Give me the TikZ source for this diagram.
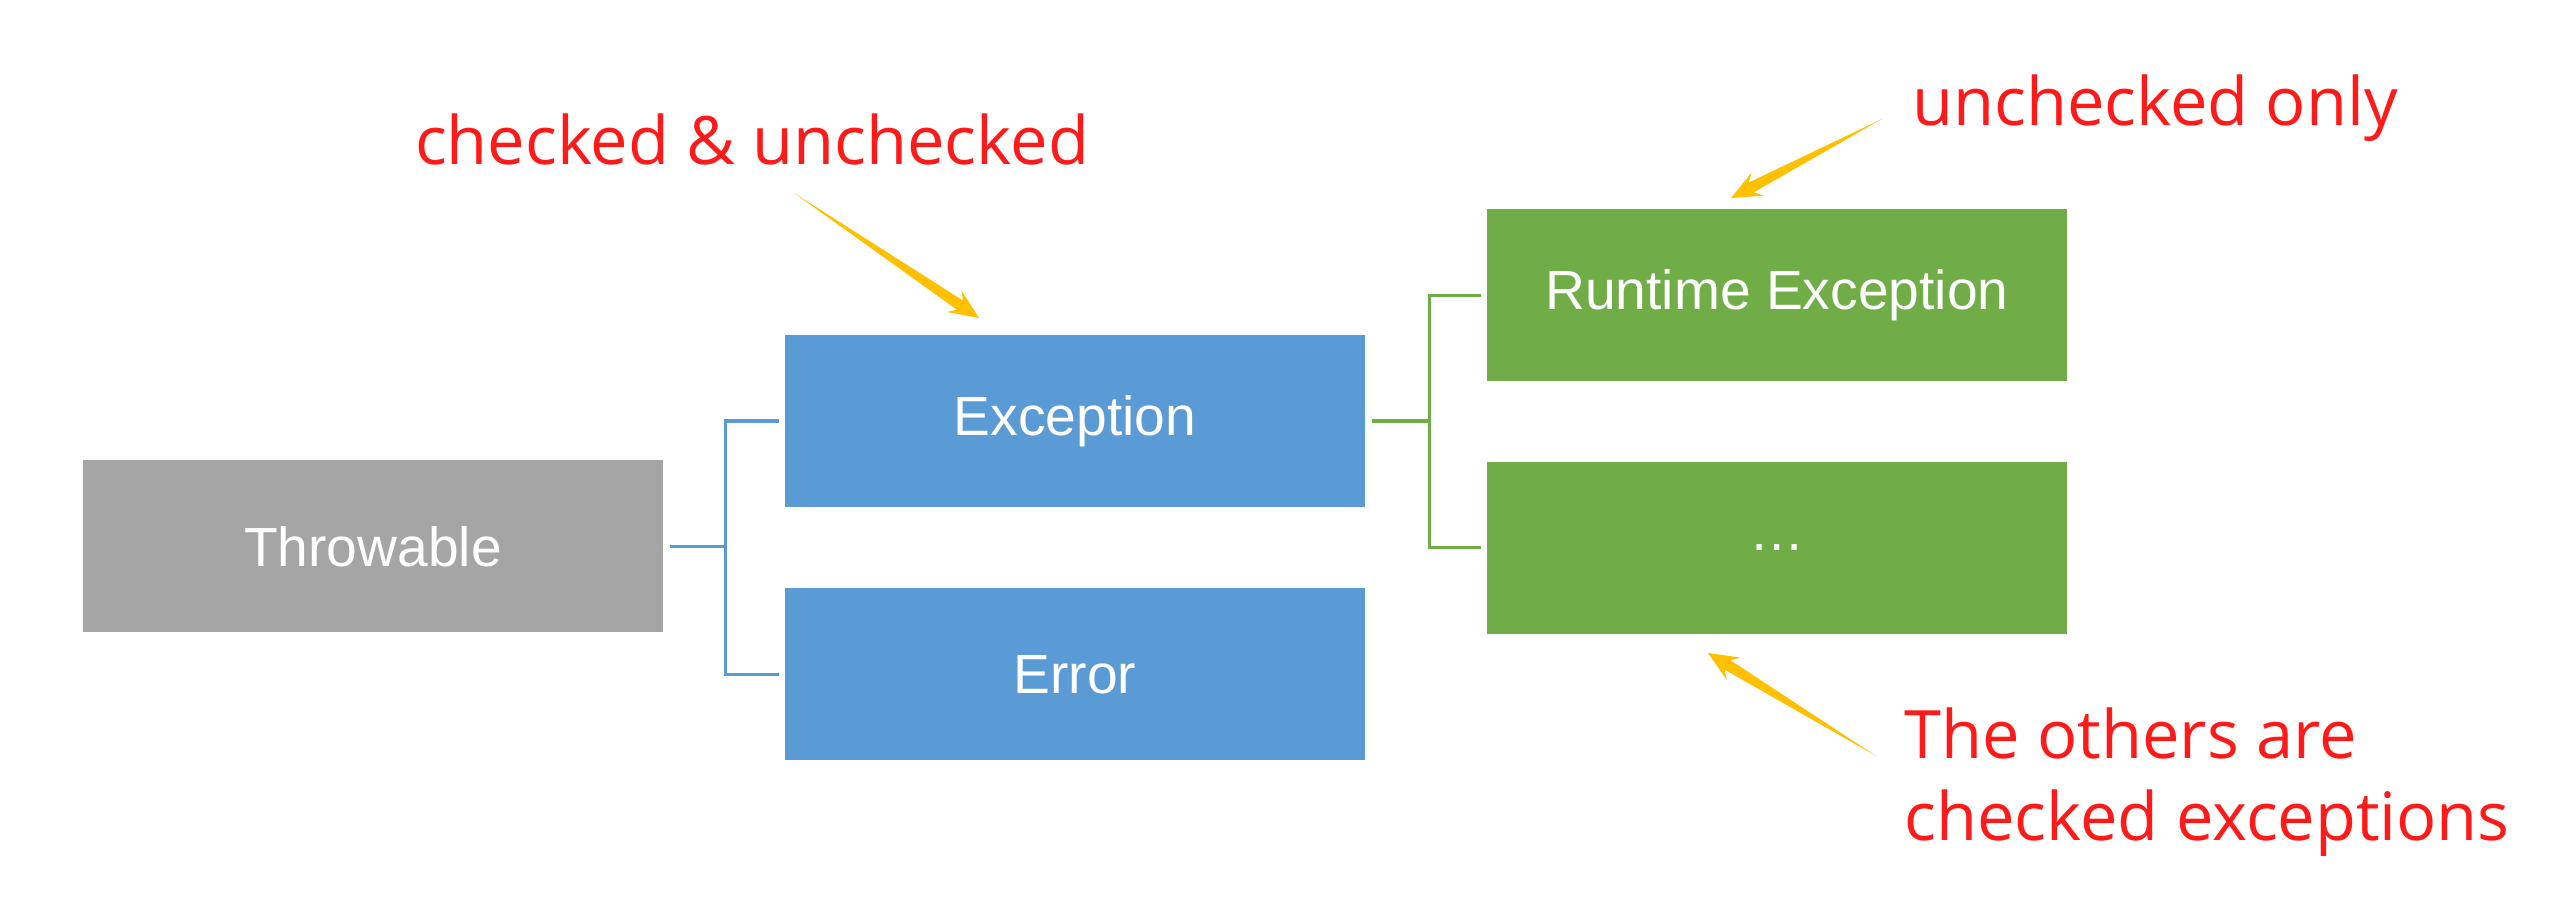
\documentclass[tikz,border=0pt]{standalone}
\usepackage{fontspec}
\setmainfont{Liberation Sans}
\newfontfamily\notefont{Open Sans}
\usepackage{tikz}
\usetikzlibrary{calc,positioning}
\definecolor{boxgray}{HTML}{A5A5A5}
\definecolor{boxblue}{HTML}{5B9BD5}
\definecolor{boxgreen}{HTML}{70AD47}
\definecolor{calloutorange}{HTML}{FFC000}
\definecolor{notered}{HTML}{FF1A1A}
% tapered callout arrow: #1 tail, #2 tip
\def\taperarrow#1#2{
  \coordinate (ta-b) at ($(#2)!0.30cm!(#1)$);
  \coordinate (ta-s) at ($(#2)!0.23cm!(#1)$);
  \fill[callout] (#1) -- ($(ta-s)!0.055cm!90:(#2)$) -- ($(ta-b)!0.13cm!90:(#2)$)
     -- (#2) -- ($(ta-b)!0.13cm!-90:(#2)$) -- ($(ta-s)!0.055cm!-90:(#2)$) -- cycle;
}
\begin{document}
\begin{tikzpicture}[      align=center,   inner sep=0pt,
      box/.style   ={minimum width=5.8cm, minimum height=1.72cm,
                     text=white, font=\fontsize{15.7}{19}\selectfont},
      grey box/.style ={box, fill=boxgray },
      blue box/.style ={box, fill=boxblue },
      green box/.style={box, fill=boxgreen},
      link/.style  ={line width=0.9pt},
      note/.style  ={text=notered, font=\notefont\fontsize{19}{23.4}\selectfont},
      callout/.style={fill=calloutorange},  ]

    \useasboundingbox[fill=white] (0,0) rectangle (25.62,-9.16);

    \node[grey box] (thr) at (3.73,-5.465) {Throwable};

    \begin{scope}[node distance=0.8cm]
      \node[blue box              ] (exc) at (10.75,-4.21) {Exception};
      \node[blue box, below = of exc] (err)                {Error};
    \end{scope}

    \begin{scope}[node distance=0.79cm]
      \node[green box            ] (rt)  at (17.77,-2.955) {Runtime Exception};
      \node[green box, below = of rt] (oth)                 {\raisebox{-0.6mm}{…}};
    \end{scope}

    \begin{scope}[link, boxblue]
      \draw ([xshift=0.6mm]thr.east) -- ++(0.56,0) coordinate (thr-j)
            |- ([xshift=-0.5mm]exc.west);
      \draw (thr-j) |- ([xshift=-0.5mm]err.west);
    \end{scope}

    \begin{scope}[link, boxgreen]
      \draw ([xshift=0.6mm]exc.east) -- ++(0.58,0) coordinate (exc-j)
            |- ([xshift=-0.5mm]rt.west);
      \draw (exc-j) |- ([xshift=-0.5mm]oth.west);
    \end{scope}

    % notes
    \node[note, anchor=base] (n-both) at (7.52,-1.65)  {checked \& unchecked};
    \node[note, anchor=base] (n-rt)   at (21.55,-1.26) {unchecked only};
    \node[note, anchor=west, align=left] (n-oth) at (19.04,-7.82)
         {The others are\\checked exceptions};

    \coordinate (n-both-t) at (7.94,-1.93);
    \coordinate (n-rt-t)   at (18.82,-1.19);
    \coordinate (n-oth-t)  at (18.76,-7.56);
    \taperarrow{n-both-t}{9.79,-3.18}
    \taperarrow{n-rt-t}{17.31,-1.98}
    \taperarrow{n-oth-t}{17.08,-6.53}

  \end{tikzpicture}
\end{document}
